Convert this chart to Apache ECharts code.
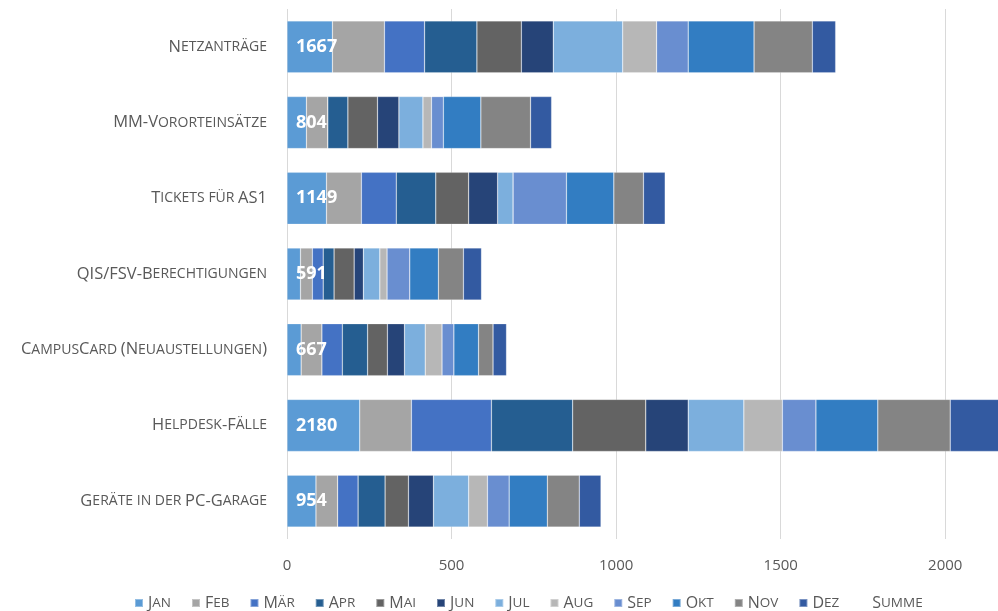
<!DOCTYPE html>
<html>
<head>
<meta charset="utf-8">
<script src="https://cdn.jsdelivr.net/npm/echarts@6/dist/echarts.min.js"></script>
<style>
html,body{margin:0;padding:0;background:#fff;overflow:hidden;width:998px;height:611px;}
#chart{width:1130px;height:611px;}
</style>
</head>
<body>
<div id="chart"></div>
<script>
const categories = ['Netzanträge','MM-Vororteinsätze','Tickets für AS1','QIS/FSV-Berechtigungen','CampusCard (Neuaustellungen)','Helpdesk-Fälle','Geräte in der PC-Garage'];
const months = ['Jan','Feb','Mär','Apr','Mai','Jun','Jul','Aug','Sep','Okt','Nov','Dez'];
const jan = [138, 59, 120, 41, 43, 221, 88];
const feb = [158, 65, 106, 36, 63, 157, 66];
const maer = [122, 0, 106, 33, 62, 243, 62];
const apr = [159, 61, 120, 33, 77, 247, 82];
const mai = [135, 90, 100, 61, 60, 222, 71];
const jun = [97, 65, 88, 28, 52, 129, 76];
const jul = [211, 73, 47, 50, 63, 169, 107];
const aug = [103, 26, 0, 22, 51, 117, 57];
const sep = [96, 36, 162, 69, 36, 102, 66];
const okt = [200, 114, 144, 87, 75, 188, 116];
const nov = [177, 151, 90, 76, 44, 220, 97];
const dez = [71, 64, 66, 55, 41, 165, 66];
const summe = [1667, 804, 1149, 591, 667, 2180, 954];
const xTicks = [0, 500, 1000, 1500, 2000, 2500];

const monthData = [jan, feb, maer, apr, mai, jun, jul, aug, sep, okt, nov, dez];
const colors = ['#5B9BD5','#A5A5A5','#4472C4','#255E91','#636363','#264478','#7CAFDD','#B7B7B7','#698ED0','#327DC2','#848484','#335AA1'];

function smallCaps(str){
  let out = '';
  let cur = null, buf = '';
  for (const ch of str){
    let t;
    if (ch === ' ') t = cur || 'b';
    else t = (ch !== ch.toUpperCase()) ? 's' : 'b';
    const c = t === 's' ? ch.toUpperCase() : ch;
    if (t !== cur && buf){ out += '{' + cur + '|' + buf + '}'; buf = ''; }
    cur = t; buf += c;
  }
  if (buf) out += '{' + cur + '|' + buf + '}';
  return out;
}

const FONT = '"Open Sans", "Noto Sans", sans-serif';
const TXT = '#595959';
const richCat = {
  b: {fontFamily: FONT, fontSize: 16.5, color: TXT},
  s: {fontFamily: FONT, fontSize: 14, color: TXT}
};
const richLeg = {
  b: {fontFamily: FONT, fontSize: 16, color: TXT},
  s: {fontFamily: FONT, fontSize: 13.5, color: TXT}
};

const series = months.map((m, i) => ({
  name: m,
  type: 'bar',
  stack: 'total',
  barWidth: 52,
  barGap: '-100%',
  data: monthData[i],
  itemStyle: {color: colors[i], borderColor: 'rgba(255,255,255,0.35)', borderWidth: 0.6},
  emphasis: {disabled: true}
}));
series.push({
  name: 'Summe',
  type: 'bar',
  barWidth: 52,
  barGap: '-100%',
  data: summe,
  z: 5,
  itemStyle: {color: 'rgba(0,0,0,0)'},
  label: {
    show: true,
    position: 'insideLeft',
    distance: 9,
    color: '#ffffff',
    fontFamily: FONT,
    fontWeight: 'bold',
    fontSize: 18
  },
  emphasis: {disabled: true}
});

const chart = echarts.init(document.getElementById('chart'), null, {renderer: 'canvas'});
chart.setOption({
  animation: false,
  backgroundColor: '#ffffff',
  color: colors,
  grid: {left: 287, top: 9, height: 530, width: 831, containLabel: false},
  xAxis: {
    type: 'value',
    min: xTicks[0],
    max: xTicks[xTicks.length - 1],
    interval: 500,
    axisLine: {show: false},
    axisTick: {show: false},
    splitLine: {show: true, lineStyle: {color: '#d9d9d9', width: 1}},
    axisLabel: {color: TXT, fontFamily: FONT, fontSize: 15, margin: 19, formatter: v => String(v)}
  },
  yAxis: {
    type: 'category',
    inverse: true,
    data: categories,
    axisLine: {show: false},
    axisTick: {show: false},
    axisLabel: {
      margin: 20,
      formatter: v => smallCaps(v),
      rich: richCat
    }
  },
  legend: {
    left: 129,
    top: 590,
    itemWidth: 8,
    itemHeight: 8,
    itemGap: 20,
    icon: 'rect',
    data: months.concat(['Summe']),
    formatter: n => smallCaps(n),
    textStyle: {rich: richLeg, padding: [0,0,0,0]}
  },
  series: series
});
</script>
</body>
</html>
